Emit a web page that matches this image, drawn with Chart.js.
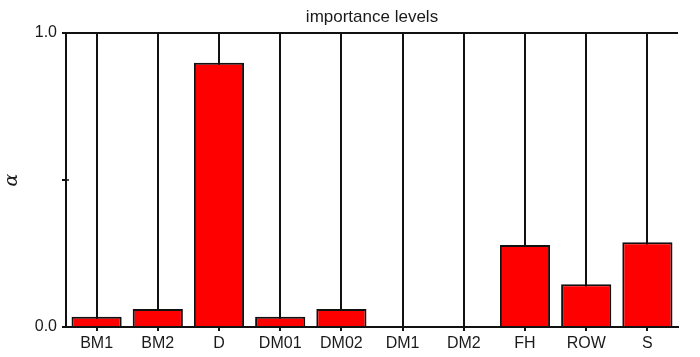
<!DOCTYPE html>
<html>
<head>
<meta charset="utf-8">
<script src="https://cdn.jsdelivr.net/npm/chart.js@4.4.1/dist/chart.umd.min.js"></script>
<style>
  html, body { margin: 0; padding: 0; background: #ffffff; }
  #wrap { width: 700px; height: 357px; position: relative; }
</style>
</head>
<body>
<div id="wrap"><canvas id="c" width="700" height="357"></canvas></div>
<script>
const categories = ['BM1', 'BM2', 'D', 'DM01', 'DM02', 'DM1', 'DM2', 'FH', 'ROW', 'S'];
const importance = [0.035, 0.061, 0.899, 0.035, 0.061, 0.0, 0.003, 0.279, 0.145, 0.288];
const yTickLabels = { 0: '0.0', 1: '1.0' };

const INK = '#111111';
const TXT = '#1a1a1a';

const helpers = {
  id: 'helpers',
  afterLayout(chart) {
    // centre the title over the plotting area
    const tb = chart.titleBlock;
    if (tb) {
      tb.left = chart.chartArea.left;
      tb.right = chart.chartArea.right;
    }
  },
  afterDraw(chart) {
    const y = chart.scales.y;
    const ctx = chart.ctx;
    const py = y.getPixelForValue(0.5);
    ctx.save();
    ctx.strokeStyle = INK;
    ctx.lineWidth = 1.5;
    ctx.beginPath();
    ctx.moveTo(y.right, py);
    ctx.lineTo(y.right + 3, py);
    ctx.stroke();
    ctx.restore();
  }
};

new Chart(document.getElementById('c'), {
  type: 'bar',
  data: {
    labels: categories,
    datasets: [{
      data: importance,
      backgroundColor: '#ff0000',
      borderColor: INK,
      borderWidth: 2,
      barPercentage: 0.82,
      categoryPercentage: 1.0
    }]
  },
  options: {
    responsive: false,
    animation: false,
    devicePixelRatio: 1,
    layout: { padding: { left: 0, right: 22, top: 0, bottom: 0 } },
    plugins: {
      legend: { display: false },
      tooltip: { enabled: false },
      title: {
        display: true,
        text: 'importance levels',
        color: TXT,
        font: { family: 'Liberation Sans', size: 17, weight: 'normal' },
        padding: { top: 7, bottom: 5.6 }
      }
    },
    scales: {
      x: {
        offset: true,
        grid: {
          offset: false,
          color: INK,
          lineWidth: 2,
          tickLength: 4,
          tickColor: INK,
          drawOnChartArea: true
        },
        border: { display: true, color: INK, width: 2 },
        ticks: {
          color: TXT,
          padding: 3,
          font: { family: 'Liberation Sans', size: 16 },
          maxRotation: 0,
          autoSkip: false
        },
        afterFit(scale) { scale.height = 30; }
      },
      y: {
        min: 0,
        max: 1,
        grid: {
          color: (ctx) => (ctx.tick && ctx.tick.value === 1 ? INK : 'rgba(0,0,0,0)'),
          lineWidth: 2,
          tickLength: 4,
          tickColor: INK
        },
        border: { display: true, color: INK, width: 2 },
        ticks: {
          stepSize: 0.5,
          color: TXT,
          padding: 5,
          font: { family: 'Liberation Sans', size: 16 },
          callback: (v) => (yTickLabels[v] !== undefined ? yTickLabels[v] : '')
        },
        title: {
          display: true,
          text: 'α',
          color: TXT,
          font: { family: 'DejaVu Serif', size: 19, style: 'italic' },
          padding: { top: 1, bottom: 0 }
        },
        afterFit(scale) { scale.width = 66; }
      }
    }
  },
  plugins: [helpers]
});
</script>
</body>
</html>
